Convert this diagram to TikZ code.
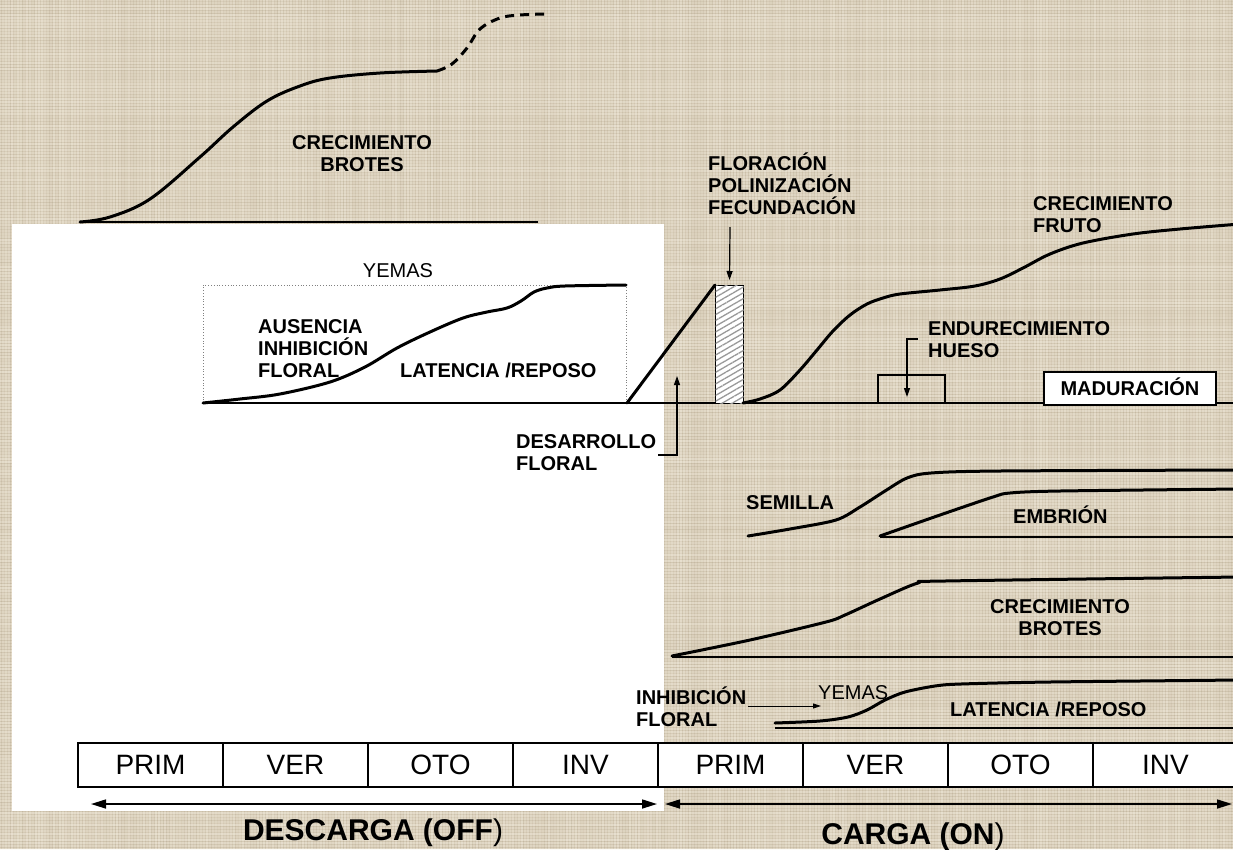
\documentclass[tikz,border=0pt]{standalone}
\usepackage{fontspec}
\setmainfont{Liberation Sans}
\usetikzlibrary{arrows.meta,patterns.meta,calc}

\definecolor{burlap}{RGB}{217,206,185}
\definecolor{threadlight}{RGB}{242,236,222}
\definecolor{threaddark}{RGB}{170,156,130}

\tikzset{
  curve/.style={line width=3pt, line cap=round, line join=round},
  dashcurve/.style={line width=3pt, line cap=butt, dash pattern=on 9pt off 6pt},
  axisline/.style={line width=1.2pt},
  thinarrow/.style={line width=1.2pt, -{Triangle[length=9pt,width=6pt]}},
  bigarrow/.style={line width=1.6pt, {Triangle[length=15pt,width=9pt]}-{Triangle[length=15pt,width=9pt]}},
  lbl/.style={font=\bfseries\fontsize{20}{22}\selectfont, inner sep=0pt},
  plain/.style={font=\fontsize{20}{22}\selectfont, inner sep=0pt},
  season/.style={draw, line width=2pt, fill=white, minimum width=145pt, minimum height=44pt,
    inner sep=0pt, font=\fontsize{28}{30}\selectfont},
  stagebox/.style={draw, line width=2pt, inner sep=0pt},
  phase/.style={font=\bfseries\fontsize{30}{32}\selectfont, inner sep=0pt},
}

\begin{document}
\begin{tikzpicture}[x=1pt,y=-1pt]
\useasboundingbox (0,0) rectangle (1233,849);
\clip (0,0) rectangle (1233,849);

% woven background
\fill[burlap] (0,0) rectangle (1233,849);
\pgfmathsetseed{2718}
\foreach \p in {0,3,...,1233}{
  \pgfmathsetmacro\op{0.05+0.35*rnd}
  \draw[threadlight, line width=1.1pt, opacity=\op] (\p,0) -- (\p,849);
}
\foreach \p in {1.5,4.5,...,1233}{
  \pgfmathsetmacro\op{0.03+0.22*rnd}
  \draw[threaddark, line width=0.8pt, opacity=\op] (\p,0) -- (\p,849);
}
\foreach \p in {0,3,...,849}{
  \pgfmathsetmacro\op{0.05+0.35*rnd}
  \draw[threadlight, line width=1.1pt, opacity=\op] (0,\p) -- (1233,\p);
}
\foreach \p in {1.5,4.5,...,849}{
  \pgfmathsetmacro\op{0.03+0.22*rnd}
  \draw[threaddark, line width=0.8pt, opacity=\op] (0,\p) -- (1233,\p);
}

% white panel of the off year
\fill[white] (12,224) rectangle (664,811);

% ---- shoot growth, top ----
\draw[axisline] (80,222) -- (538,222);
\draw[curve] plot[smooth, tension=0.6] coordinates {(80,222) (110,217) (150,199) (200,157) (233,127) (267,101) (300,86) (330,78) (380,73) (437,71)};
\draw[dashcurve] plot[smooth, tension=0.6] coordinates {(437,71) (452,64) (467,48) (480,29) (500,18) (520,15) (545,14)};
\node[lbl, align=center, anchor=base] (brotesA) at (362,171) {CRECIMIENTO\\BROTES};

% ---- buds, off year ----
\draw[gray, dotted, line width=0.8pt] (203,403) -- (203,285) -- (626,285) -- (626,403);
\draw[axisline] (203,403) -- (1233,403);
\draw[curve] plot[smooth, tension=0.55] coordinates {(203,403) (240,399) (280,394) (330,382) (365,367) (397,348) (430,332) (463,318) (487,312) (507,308) (521,301) (534,292) (547,288) (565,286) (626,285)};
\node[plain, anchor=base] (yemasA) at (398,277) {YEMAS};
\node[lbl, align=left, anchor=base west] (ausencia) at (258,377) {AUSENCIA\\INHIBICIÓN\\FLORAL};
\node[lbl, anchor=base west] (latenciaA) at (400,377) {LATENCIA /REPOSO};

% ---- flower development and bloom ----
\coordinate (rampFoot) at (627,403);
\node[draw, line width=1pt, fill=white, minimum width=28pt, minimum height=118pt, inner sep=0pt,
  anchor=north west, postaction={pattern={Lines[angle=30,distance=5pt,line width=1.3pt]}, pattern color=gray!80}] (hatch) at (715,285) {};
\draw[curve] (rampFoot) -- (hatch.north west);
\node[lbl, align=left, anchor=base west] (floracion) at (708,214) {FLORACIÓN\\POLINIZACIÓN\\FECUNDACIÓN};
\coordinate (florTail) at (730,227);
\draw[thinarrow] (florTail) -- ([yshift=5pt]hatch.north);

\node[lbl, align=left, anchor=base west] (desarrollo) at (516,470) {DESARROLLO\\FLORAL};
\coordinate (desTail) at (658,455);
\coordinate (desTip) at (677,376);
\draw[thinarrow] (desTail) -| (desTip);

% ---- fruit growth ----
\draw[curve] plot[smooth, tension=0.55] coordinates {(743,403) (760,399) (780,390) (800,370) (817,350) (833,331) (850,315) (867,304) (883,298) (900,294) (940,290) (975,286) (1000,279) (1023,268) (1050,254) (1083,243) (1133,234) (1180,229) (1240,224)};
\node[lbl, align=left, anchor=base west] (fruto) at (1033,232) {CRECIMIENTO\\FRUTO};

\node[stagebox, minimum width=67pt, minimum height=28pt, anchor=north west] (hueso) at (877,374) {};
\node[lbl, align=left, anchor=base west] (endurec) at (928,357) {ENDURECIMIENTO\\HUESO};
\coordinate (huesoTail) at (918,339);
\draw[thinarrow] (huesoTail) -| ($(hueso.south west)+(30,-7)$);

\node[stagebox, fill=white, minimum width=172pt, minimum height=33pt, anchor=north west,
  lbl, text height=14.3pt, text depth=0pt] (madur) at (1043,371) {MADURACIÓN};

% ---- seed and embryo ----
\draw[axisline] (880,537) -- (1233,537);
\draw[curve] plot[smooth, tension=0.5] coordinates {(748,536) (790,529) (836,520) (860,507) (885,491) (907,478) (931,473) (1000,471) (1240,470)};
\draw[curve] plot[smooth, tension=0.5] coordinates {(880,536) (940,515) (993,497) (1010,493) (1060,491) (1240,489)};
\node[lbl, anchor=base west] (semilla) at (746,509) {SEMILLA};
\node[lbl, anchor=base west] (embrion) at (1013,523) {EMBRIÓN};

% ---- shoot growth, on year ----
\draw[axisline] (672,657) -- (1233,657);
\draw[curve] plot[smooth, tension=0.5] coordinates {(672,656) (750,640) (826,622) (845,615) (880,599) (918,583) (945,581) (1240,577)};
\node[lbl, align=center, anchor=base] (brotesB) at (1060,635) {CRECIMIENTO\\BROTES};

% ---- buds, on year ----
\draw[axisline] (775,728) -- (1233,728);
\draw[curve] plot[smooth, tension=0.5] coordinates {(775,723) (820,721) (848,717) (867,710) (885,700) (905,692) (935,686) (961,684) (1050,682) (1240,680)};
\node[lbl, align=left, anchor=base west] (inhib) at (636,726) {INHIBICIÓN\\FLORAL};
\node[plain, anchor=base west] (yemasB) at (818,699) {YEMAS};
\coordinate (inhibTail) at (748,706);
\coordinate (inhibTip) at (821,706);
\draw[line width=1pt, -{Triangle[length=8pt,width=5pt]}] (inhibTail) -- (inhibTip);
\node[lbl, anchor=base west] (latenciaB) at (950,716) {LATENCIA /REPOSO};

% ---- seasons ----
\node[season] (s1) at (150.5,765) {PRIM};
\node[season] (s2) at (295.5,765) {VER};
\node[season] (s3) at (440.5,765) {OTO};
\node[season] (s4) at (585.5,765) {INV};
\node[season] (s5) at (730.5,765) {PRIM};
\node[season] (s6) at (875.5,765) {VER};
\node[season] (s7) at (1020.5,765) {OTO};
\node[season] (s8) at (1165.5,765) {INV};

% ---- off / on years ----
\coordinate (offL) at (91,804);
\coordinate (offR) at (657,804);
\coordinate (onL) at (665,804);
\coordinate (onR) at (1232,804);
\draw[bigarrow] (offL) -- (offR);
\draw[bigarrow] (onL) -- (onR);
\node[phase, anchor=base] (descarga) at (373,840) {DESCARGA (OFF\textmd{)}};
\node[phase, anchor=base] (carga) at (913,844) {CARGA (ON\textmd{)}};
\end{tikzpicture}
\end{document}
